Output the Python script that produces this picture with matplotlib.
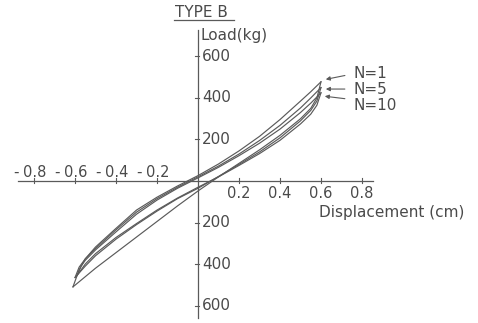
import matplotlib
matplotlib.use("Agg")
import matplotlib.pyplot as plt

# hysteresis loops (displacement cm, load kg)
# upper branch: unloading from + peak to - peak, lower branch: loading back
n1_up_x = [0.60, 0.55, 0.50, 0.40, 0.30, 0.20, 0.10, 0.00, -0.10, -0.20, -0.30, -0.40, -0.50, -0.55, -0.58, -0.61]
n1_up_y = [478, 430, 385, 296, 215, 145, 82, 26, -24, -78, -140, -228, -318, -375, -428, -510]
n1_lo_x = [-0.61, -0.50, -0.40, -0.30, -0.20, -0.10, 0.00, 0.10, 0.20, 0.30, 0.40, 0.50, 0.55, 0.58, 0.60]
n1_lo_y = [-510, -420, -345, -270, -195, -120, -48, 20, 85, 150, 220, 300, 350, 400, 478]

n5_up_x = [0.60, 0.55, 0.50, 0.40, 0.30, 0.20, 0.10, 0.00, -0.10, -0.20, -0.30, -0.40, -0.50, -0.55, -0.58, -0.60]
n5_up_y = [450, 400, 352, 268, 195, 130, 72, 20, -30, -85, -150, -235, -325, -375, -415, -465]
n5_lo_x = [-0.60, -0.55, -0.50, -0.40, -0.30, -0.20, -0.10, 0.00, 0.10, 0.20, 0.30, 0.40, 0.50, 0.55, 0.58, 0.60]
n5_lo_y = [-465, -410, -360, -280, -210, -145, -85, -35, 22, 80, 140, 208, 290, 340, 385, 450]

n10_up_x = [0.60, 0.55, 0.50, 0.40, 0.30, 0.20, 0.10, 0.00, -0.10, -0.20, -0.30, -0.40, -0.50, -0.55, -0.57, -0.59]
n10_up_y = [425, 375, 330, 250, 182, 122, 66, 15, -35, -92, -160, -245, -332, -382, -410, -455]
n10_lo_x = [-0.59, -0.55, -0.50, -0.40, -0.30, -0.20, -0.10, 0.00, 0.10, 0.20, 0.30, 0.40, 0.50, 0.55, 0.58, 0.60]
n10_lo_y = [-455, -400, -350, -272, -205, -140, -82, -30, 20, 75, 132, 196, 275, 322, 365, 425]

x_ticks = [-0.8, -0.6, -0.4, -0.2, 0.2, 0.4, 0.6, 0.8]
y_ticks = [-600, -400, -200, 200, 400, 600]

labels = ["N=1", "N=5", "N=10"]
label_y = [516, 443, 366]
arrow_from = [(0.73, 511), (0.73, 443), (0.73, 395)]
arrow_to = [(0.61, 487), (0.61, 443), (0.605, 410)]

col = "#5a5a5a"
txt = "#4a4a4a"
fs = 11

fig = plt.figure(figsize=(4.78, 3.23), dpi=100)
ax = fig.add_axes([0, 0, 1, 1])
# limits chosen so the axes fill the figure like the scan
ax.set_xlim(-0.966, 1.366)
ax.set_ylim(-684, 872)
ax.axis("off")

for xs, ys in [(n1_up_x, n1_up_y), (n1_lo_x, n1_lo_y),
               (n5_up_x, n5_up_y), (n5_lo_x, n5_lo_y),
               (n10_up_x, n10_up_y), (n10_lo_x, n10_lo_y)]:
    ax.plot(xs, ys, color=col, lw=0.85, solid_joinstyle="round")

# axes drawn through the origin
ax.plot([-0.878, 0.854], [0, 0], color=col, lw=0.9)
ax.plot([0, 0], [-660, 728], color=col, lw=0.9)

for t in x_ticks:
    ax.plot([t, t], [-10, 14], color=col, lw=0.8)
    if t < 0:
        # minus sign sits apart from the number, number centred on the tick
        ax.text(t - 0.09, 40, "-", ha="center", va="center", fontsize=fs, color=txt)
        ax.text(t + 0.003, 40, "%.1f" % abs(t), ha="center", va="center", fontsize=10.5, color=txt)
    else:
        ax.text(t, -60, "%.1f" % t, ha="center", va="center", fontsize=10.5, color=txt)
for t in y_ticks:
    ax.plot([-0.015, 0.004], [t, t], color=col, lw=0.8)
    ax.text(0.02, t, "%d" % abs(t), ha="left", va="center", fontsize=fs, color=txt)

ax.text(0.59, -150, "Displacement (cm)", ha="left", va="center", fontsize=fs, color=txt)
ax.text(0.012, 700, "Load(kg)", ha="left", va="center", fontsize=fs, color=txt)
ax.text(-0.112, 812, "TYPE B", ha="left", va="center", fontsize=fs, color=txt)
ax.plot([-0.115, 0.175], [778, 778], color=col, lw=0.9)

for lab, ly, a, b in zip(labels, label_y, arrow_from, arrow_to):
    ax.text(0.76, ly, lab, ha="left", va="center", fontsize=fs, color=txt)
    ax.annotate("", xy=b, xytext=a,
                arrowprops=dict(arrowstyle="-|>", color=col, lw=0.8, mutation_scale=6))

fig.savefig("out.png", dpi=100)
